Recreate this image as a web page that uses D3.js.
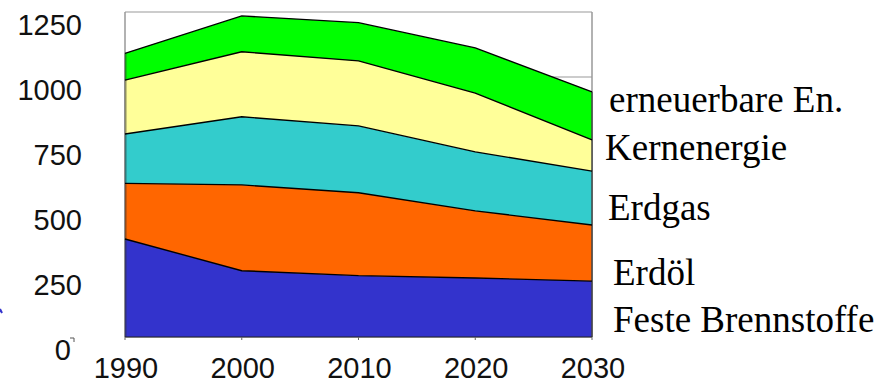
<!DOCTYPE html>
<html>
<head>
<meta charset="utf-8">
<script src="https://cdn.jsdelivr.net/npm/d3@7"></script>
<style>
  html, body { margin: 0; padding: 0; background: #fff; }
  svg { display: block; }
</style>
</head>
<body>
<svg id="chart" width="890" height="382"></svg>
<script>
// Energy consumption by source, 1990–2030 (stacked)
const years = [1990, 2000, 2010, 2020, 2030];
const festeBrennstoffe = [377, 255, 236, 227, 215];
const erdoel = [214, 330, 319, 258, 216];
const erdgas = [190, 262, 257, 227, 207];
const kernenergie = [207, 250, 250, 226, 120];
const erneuerbare = [103, 138, 147, 174, 185];

const seriesNames = ["Feste Brennstoffe", "Erdöl", "Erdgas", "Kernenergie", "erneuerbare En."];
const seriesValues = [festeBrennstoffe, erdoel, erdgas, kernenergie, erneuerbare];
const seriesColors = ["#3333CC", "#FF6600", "#33CCCC", "#FFFF99", "#00FF00"];
const yTicks = [0, 250, 500, 750, 1000, 1250];

const svg = d3.select("#chart");
const margin = { left: 125, right: 298, top: 12, bottom: 45 };
const W = 890, H = 382;

const x = d3.scaleLinear().domain([1990, 2030]).range([margin.left, W - margin.right]);
const y = d3.scaleLinear().domain([0, 1250]).range([H - margin.bottom, margin.top]);

// rows for the stack
const rows = years.map((yr, i) => {
  const r = { year: yr };
  seriesNames.forEach((n, k) => r[n] = seriesValues[k][i]);
  return r;
});
const stacked = d3.stack().keys(seriesNames)(rows);

// gridlines and plot frame behind the areas
svg.append("g").selectAll("line").data(yTicks).join("line")
  .attr("x1", x(1990)).attr("x2", x(2030))
  .attr("y1", d => y(d)).attr("y2", d => y(d))
  .attr("stroke", "#999").attr("stroke-width", 1.2);
svg.append("line")
  .attr("x1", x(2030)).attr("x2", x(2030))
  .attr("y1", y(1250)).attr("y2", y(0))
  .attr("stroke", "#999").attr("stroke-width", 1.5);
svg.append("line")
  .attr("x1", x(1990)).attr("x2", x(1990))
  .attr("y1", y(1250)).attr("y2", y(0))
  .attr("stroke", "#999").attr("stroke-width", 1.5);

const area = d3.area()
  .x(d => x(d.data.year))
  .y0(d => y(d[0]))
  .y1(d => y(d[1]));
const topLine = d3.line()
  .x(d => x(d.data.year))
  .y(d => y(d[1]));

svg.append("g").selectAll("path").data(stacked).join("path")
  .attr("d", area)
  .attr("fill", (d, i) => seriesColors[i]);

// side edges of the stacked block
svg.append("line")
  .attr("x1", x(1990) + 0.5).attr("x2", x(1990) + 0.5)
  .attr("y1", y(stacked[stacked.length - 1][0][1])).attr("y2", y(0))
  .attr("stroke", "#333").attr("stroke-opacity", 0.55).attr("stroke-width", 2);
svg.append("line")
  .attr("x1", x(2030)).attr("x2", x(2030))
  .attr("y1", y(stacked[stacked.length - 1][years.length - 1][1])).attr("y2", y(0))
  .attr("stroke", "#444").attr("stroke-width", 1.5);
svg.append("line")
  .attr("x1", x(1990)).attr("x2", x(2030))
  .attr("y1", y(0)).attr("y2", y(0))
  .attr("stroke", "#222").attr("stroke-width", 1.2);

svg.append("g").selectAll("path").data(stacked).join("path")
  .attr("d", topLine)
  .attr("fill", "none")
  .attr("stroke", "#000")
  .attr("stroke-width", 1.4);

// x ticks and labels
svg.append("g").selectAll("line").data(years).join("line")
  .attr("x1", d => x(d)).attr("x2", d => x(d))
  .attr("y1", y(0)).attr("y2", y(0) + 3)
  .attr("stroke", "#666");
svg.append("g").selectAll("text").data(years).join("text")
  .attr("x", d => x(d) + 1)
  .attr("y", y(0) + 41)
  .attr("text-anchor", "middle")
  .attr("font-family", "Liberation Sans, Arial, sans-serif")
  .attr("font-size", 29)
  .attr("fill", "#111")
  .text(d => d);

// y labels
svg.append("g").selectAll("text").data(yTicks).join("text")
  .attr("x", d => d === 0 ? 71 : 82)
  .attr("y", d => y(d) + 23)
  .attr("text-anchor", "end")
  .attr("font-family", "Liberation Sans, Arial, sans-serif")
  .attr("font-size", 29)
  .attr("fill", "#111")
  .text(d => d);

// small tick stub beside the zero label
svg.append("path")
  .attr("d", `M70,${y(0) + 1}H74V${y(0) + 5}`)
  .attr("fill", "none").attr("stroke", "#555").attr("stroke-width", 1);

// stray blue mark at the left margin
svg.append("line")
  .attr("x1", 0).attr("y1", 309).attr("x2", 2).attr("y2", 313)
  .attr("stroke", "#3333CC").attr("stroke-width", 2);

// series labels on the right
const labelPos = [
  { name: "Feste Brennstoffe", x: 613, y: 332 },
  { name: "Erdöl", x: 613, y: 285 },
  { name: "Erdgas", x: 608, y: 220 },
  { name: "Kernenergie", x: 605, y: 160 },
  { name: "erneuerbare En.", x: 609, y: 112 }
];
svg.append("g").selectAll("text").data(labelPos).join("text")
  .attr("x", d => d.x).attr("y", d => d.y)
  .attr("font-family", "Liberation Serif, Times New Roman, serif")
  .attr("font-size", 37)
  .attr("fill", "#000")
  .text(d => d.name);
</script>
</body>
</html>
